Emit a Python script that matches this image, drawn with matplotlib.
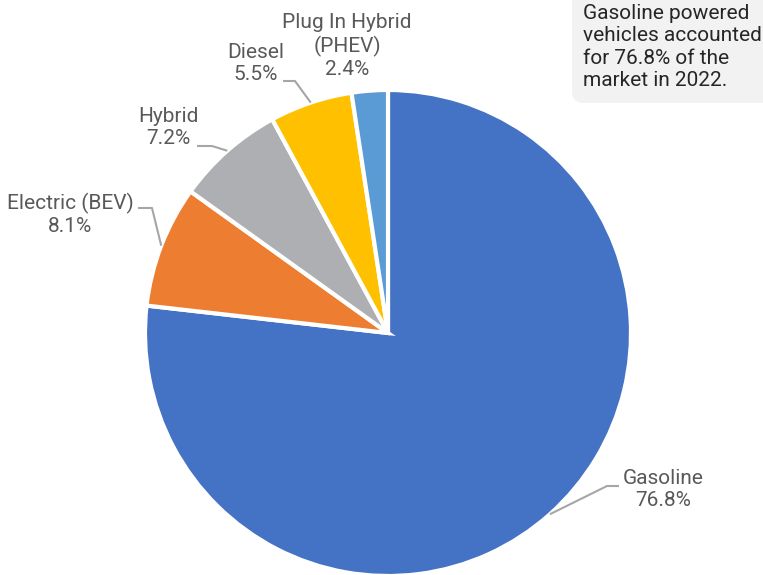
import matplotlib
matplotlib.use("Agg")
import matplotlib.pyplot as plt
from matplotlib.patches import FancyBboxPatch
import numpy as np

plt.rcParams['font.family'] = ['Roboto', 'DejaVu Sans']

categories = ["Gasoline", "Electric (BEV)", "Hybrid", "Diesel", "Plug In Hybrid\n(PHEV)"]
shares = [76.8, 8.1, 7.2, 5.5, 2.4]
colors = ["#4472C4", "#ED7D31", "#AEAFB2", "#FFC000", "#5B9BD5"]
note = "Gasoline powered\nvehicles accounted\nfor 76.8% of the\nmarket in 2022."

W, H = 763, 575
fig = plt.figure(figsize=(W / 100, H / 100), dpi=100)
ax = fig.add_axes([0, 0, 1, 1])
ax.set_xlim(0, W)
ax.set_ylim(0, H)
ax.axis('off')

cx, cy, R = 388, H - 333, 243
wedges, _ = ax.pie(shares, center=(cx, cy), radius=R, startangle=90,
                   counterclock=False, colors=colors,
                   wedgeprops=dict(edgecolor='white', linewidth=3))
ax.set_xlim(0, W)
ax.set_ylim(0, H)
ax.set_aspect('auto')

# label layout: (text center x, text center y in px from top), leader (text end, elbow) in px from top
label_pos = [(663, 490), (70, 214), (168, 127), (256, 63), (347, 46)]
leaders = [((619, 486), (607, 486)), ((138, 208), (152, 208)), ((197, 146), (212, 146)),
           ((283, 81), (295, 81)), None]

lab_col = "#595959"
fs = 15
for w, cat, val, (tx, ty), ld in zip(wedges, categories, shares, label_pos, leaders):
    ax.text(tx, H - ty, f"{cat}\n{val}%", ha='center', va='center', fontsize=fs,
            color=lab_col, linespacing=1.2)
    if ld is not None:
        mid = np.deg2rad((w.theta1 + w.theta2) / 2)
        ex, ey = cx + R * np.cos(mid), cy + R * np.sin(mid)
        (x0, y0), (x1, y1) = ld
        ax.plot([x0, x1, ex], [H - y0, H - y1, ey], color="#A6A6A6", lw=1.5,
                solid_capstyle='butt', zorder=1)

box = FancyBboxPatch((572, H - 103), 220, 130, boxstyle="round,pad=0,rounding_size=12",
                     fc="#F2F2F3", ec="none", zorder=0)
ax.add_patch(box)
ax.text(583, H - 47, note, ha='left', va='center', fontsize=fs, color="#262626",
        linespacing=1.24)

fig.savefig("out.png", dpi=100)
